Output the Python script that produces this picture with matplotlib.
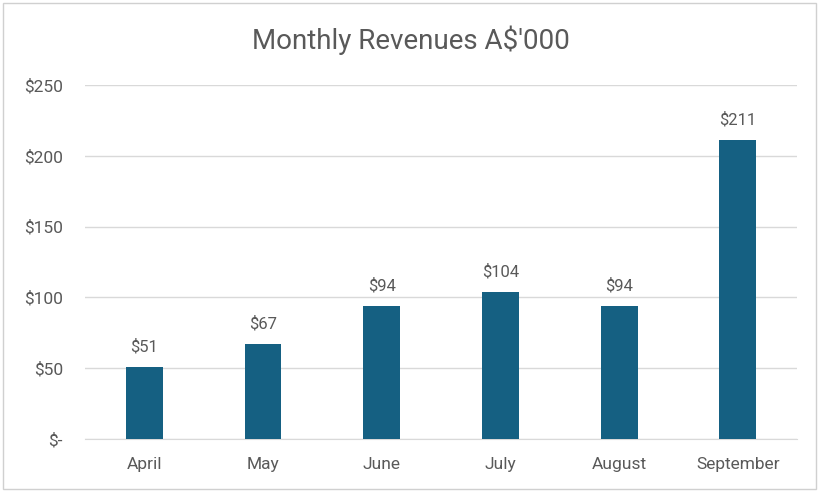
import matplotlib
matplotlib.use('Agg')
import matplotlib.pyplot as plt
from matplotlib.patches import Rectangle

# Monthly revenue data (A$'000)
months = ['April', 'May', 'June', 'July', 'August', 'September']
revenues = [51, 67, 94, 104, 94, 211]
y_ticks = [0, 50, 100, 150, 200, 250]

bar_color = '#156082'
text_color = '#595959'
grid_color = '#d9d9d9'

plt.rcParams['font.family'] = ['Roboto', 'DejaVu Sans']

fig = plt.figure(figsize=(8.21, 4.92), dpi=100)
ax = fig.add_axes([0.1035, 0.1077, 0.8675, 0.7195])

x = range(len(months))
bars = ax.bar(x, revenues, width=0.31, color=bar_color, zorder=3)

# Data labels above bars
for xi, v in zip(x, revenues):
    ax.annotate(f'${v}', (xi, v), xytext=(0, 9), textcoords='offset points',
                ha='center', va='bottom', fontsize=12, color=text_color)

ax.set_xlim(-0.5, len(months) - 0.5)
ax.set_ylim(0, 250)
ax.set_yticks(y_ticks)
ax.set_yticklabels(['$-' if t == 0 else f'${t}' for t in y_ticks])
ax.set_xticks(list(x))
ax.set_xticklabels(months)
ax.tick_params(axis='both', length=0, labelsize=12.5, labelcolor=text_color)
ax.tick_params(axis='y', pad=16)
ax.tick_params(axis='x', pad=13)

ax.grid(axis='y', color=grid_color, linewidth=1, zorder=0)
for side in ['top', 'right', 'left']:
    ax.spines[side].set_visible(False)
ax.spines['bottom'].set_color(grid_color)

fig.text(0.5, 0.918, "Monthly Revenues A$'000", ha='center', va='center',
         fontsize=20, color=text_color)

# Light frame around the chart
fig.patches.append(Rectangle((0.004, 0.006), 0.99, 0.988, transform=fig.transFigure,
                             fill=False, edgecolor='#d0d0d0', linewidth=1))

fig.savefig('out.png', dpi=100)
